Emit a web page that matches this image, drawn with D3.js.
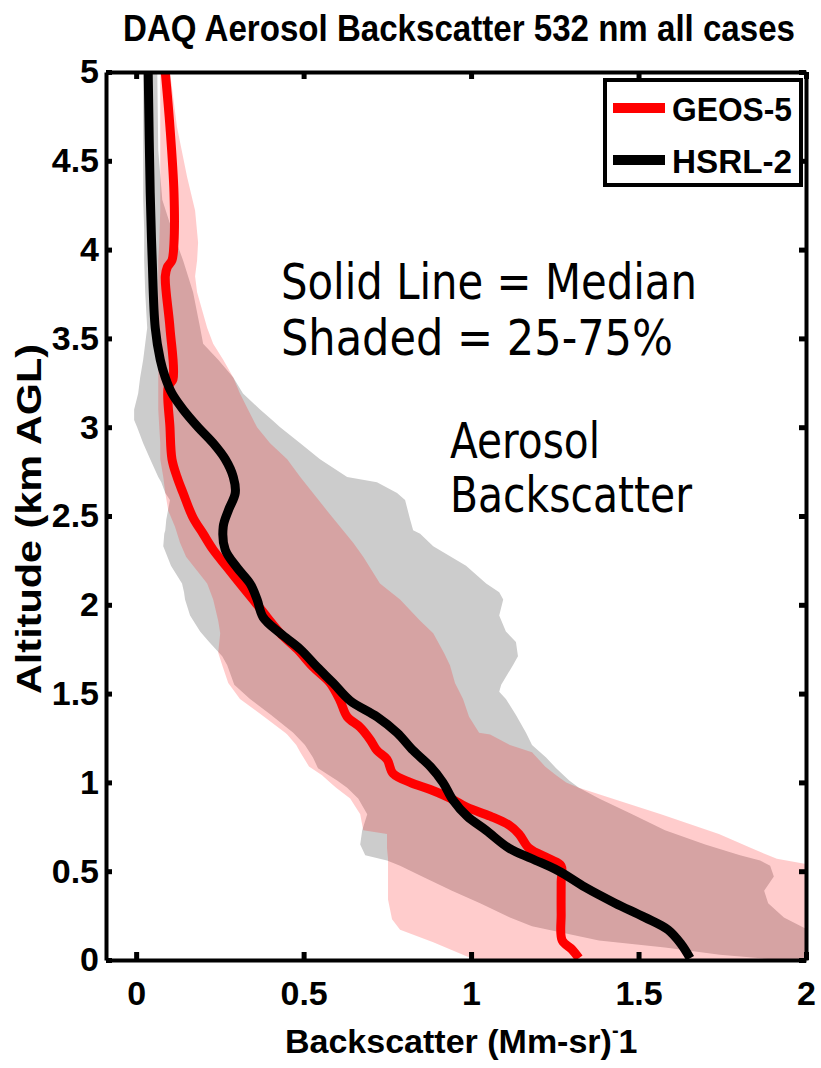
<!DOCTYPE html>
<html>
<head>
<meta charset="utf-8">
<script src="https://cdn.jsdelivr.net/npm/d3@7"></script>
<style>
  html, body { margin: 0; padding: 0; background: #fff; }
  svg { display: block; }
</style>
</head>
<body>
<svg id="chart" width="821" height="1068"></svg>
<script>
// ---- data -------------------------------------------------------------
// Median profiles (altitude km AGL, backscatter Mm^-1 sr^-1)
const hsrlAlt = [5.00, 4.32, 3.94, 3.56, 3.38, 3.28, 3.19, 3.10, 3.00, 2.91, 2.82, 2.72, 2.63, 2.53, 2.44, 2.31, 2.21, 2.12, 2.03, 1.93, 1.84, 1.75, 1.65, 1.56, 1.46, 1.37, 1.28, 1.18, 1.09, 1.00, 0.90, 0.81, 0.73, 0.63, 0.57, 0.50, 0.41, 0.32, 0.24, 0.17, 0.09, 0.01];
const hsrlMedian = [0.036, 0.042, 0.048, 0.057, 0.072, 0.087, 0.107, 0.140, 0.185, 0.230, 0.266, 0.290, 0.296, 0.275, 0.260, 0.266, 0.301, 0.340, 0.361, 0.379, 0.430, 0.490, 0.540, 0.588, 0.639, 0.719, 0.779, 0.827, 0.878, 0.916, 0.946, 0.988, 1.045, 1.113, 1.182, 1.263, 1.340, 1.430, 1.519, 1.588, 1.627, 1.654];

const geosAlt = [5.00, 4.69, 4.32, 4.04, 3.94, 3.90, 3.85, 3.56, 3.27, 3.23, 3.00, 2.82, 2.72, 2.63, 2.49, 2.40, 2.31, 2.21, 2.12, 2.03, 1.93, 1.84, 1.75, 1.65, 1.56, 1.46, 1.37, 1.31, 1.24, 1.18, 1.13, 1.05, 1.00, 0.96, 0.92, 0.86, 0.81, 0.76, 0.71, 0.63, 0.57, 0.53, 0.44, 0.26, 0.11, 0.06, 0.01];
const geosMedian = [0.087, 0.101, 0.113, 0.113, 0.107, 0.093, 0.087, 0.101, 0.110, 0.096, 0.101, 0.107, 0.122, 0.140, 0.170, 0.200, 0.230, 0.272, 0.310, 0.349, 0.391, 0.430, 0.481, 0.528, 0.579, 0.609, 0.630, 0.669, 0.699, 0.719, 0.749, 0.767, 0.818, 0.878, 0.928, 0.988, 1.057, 1.113, 1.143, 1.173, 1.233, 1.269, 1.269, 1.269, 1.272, 1.301, 1.322];

// Interquartile ranges (25th / 75th percentile)
const hsrlBandAlt = [5.00, 4.56, 4.28, 4.11, 3.94, 3.76, 3.56, 3.47, 3.38, 3.28, 3.19, 3.10, 3.04, 3.00, 2.91, 2.82, 2.72, 2.69, 2.63, 2.59, 2.48, 2.42, 2.40, 2.33, 2.22, 2.12, 2.07, 2.03, 1.94, 1.85, 1.79, 1.71, 1.66, 1.55, 1.51, 1.47, 1.38, 1.28, 1.21, 1.14, 1.08, 1.01, 0.97, 0.91, 0.82, 0.73, 0.65, 0.59, 0.56, 0.53, 0.47, 0.39, 0.32, 0.24, 0.19, 0.11, 0.07, 0.03, 0.00];
const hsrlP25 = [0.021, 0.021, 0.021, 0.024, 0.024, 0.027, 0.033, 0.027, 0.021, 0.012, 0.006, -0.006, -0.006, 0.003, 0.021, 0.042, 0.066, 0.075, 0.087, 0.101, 0.090, 0.087, 0.084, 0.081, 0.104, 0.137, 0.143, 0.146, 0.161, 0.191, 0.218, 0.257, 0.272, 0.293, 0.316, 0.340, 0.403, 0.469, 0.504, 0.528, 0.543, 0.600, 0.630, 0.663, 0.690, 0.675, 0.669, 0.684, 0.749, 0.788, 0.854, 0.943, 1.027, 1.116, 1.182, 1.382, 1.579, 1.743, 1.922];
const hsrlP75 = [0.063, 0.066, 0.078, 0.107, 0.140, 0.170, 0.191, 0.200, 0.245, 0.290, 0.319, 0.370, 0.406, 0.430, 0.490, 0.549, 0.630, 0.719, 0.779, 0.803, 0.818, 0.827, 0.848, 0.887, 0.985, 1.045, 1.084, 1.096, 1.084, 1.104, 1.134, 1.140, 1.125, 1.090, 1.084, 1.104, 1.134, 1.164, 1.182, 1.224, 1.254, 1.293, 1.322, 1.382, 1.481, 1.579, 1.699, 1.803, 1.863, 1.893, 1.904, 1.875, 1.887, 1.934, 1.985, 2.072, 2.100, 2.130, 2.150];

const geosBandAlt = [5.00, 4.69, 4.41, 4.22, 4.04, 3.94, 3.85, 3.76, 3.56, 3.47, 3.38, 3.28, 3.19, 3.10, 3.00, 2.91, 2.82, 2.72, 2.63, 2.53, 2.44, 2.35, 2.27, 2.12, 2.03, 1.91, 1.84, 1.73, 1.66, 1.56, 1.47, 1.37, 1.28, 1.27, 1.21, 1.17, 1.09, 1.04, 1.00, 0.97, 0.91, 0.82, 0.73, 0.71, 0.63, 0.57, 0.54, 0.45, 0.34, 0.23, 0.17, 0.10, 0.02, 0.00];
const geosP25 = [0.072, 0.072, 0.072, 0.072, 0.069, 0.066, 0.066, 0.066, 0.066, 0.066, 0.066, 0.066, 0.066, 0.066, 0.069, 0.072, 0.072, 0.081, 0.087, 0.096, 0.116, 0.131, 0.149, 0.212, 0.230, 0.245, 0.251, 0.245, 0.257, 0.275, 0.310, 0.382, 0.445, 0.451, 0.478, 0.490, 0.516, 0.555, 0.579, 0.597, 0.639, 0.669, 0.678, 0.749, 0.749, 0.752, 0.752, 0.752, 0.752, 0.764, 0.788, 0.887, 0.988, 1.027];
const geosP75 = [0.101, 0.122, 0.152, 0.176, 0.185, 0.182, 0.176, 0.182, 0.212, 0.230, 0.260, 0.290, 0.310, 0.334, 0.361, 0.400, 0.451, 0.490, 0.528, 0.570, 0.609, 0.648, 0.678, 0.728, 0.788, 0.848, 0.887, 0.919, 0.937, 0.952, 0.976, 0.994, 1.024, 1.057, 1.116, 1.182, 1.221, 1.254, 1.284, 1.322, 1.421, 1.567, 1.707, 1.740, 1.836, 1.913, 2.000, 2.070, 2.100, 2.100, 2.100, 2.100, 2.100, 2.100];

const xTicks = [0, 0.5, 1, 1.5, 2];
const yTicks = [0, 0.5, 1, 1.5, 2, 2.5, 3, 3.5, 4, 4.5, 5];
const seriesNames = ["GEOS-5", "HSRL-2"];
const seriesColors = ["#ff0000", "#000000"];

// ---- layout -----------------------------------------------------------
const svg = d3.select("#chart");
const x = d3.scaleLinear().domain([-0.09, 2]).range([106, 806]);
const y = d3.scaleLinear().domain([0, 5]).range([960, 72]);
const boldFont = "'Liberation Sans', Arial, sans-serif";
const textFont = "Tahoma, 'DejaVu Sans', Verdana, sans-serif";

svg.append("defs").append("clipPath").attr("id", "plot-clip")
  .append("rect")
  .attr("x", x.range()[0]).attr("y", y.range()[1])
  .attr("width", x.range()[1] - x.range()[0])
  .attr("height", y.range()[0] - y.range()[1]);

const plot = svg.append("g").attr("clip-path", "url(#plot-clip)");

function band(alts, lo, hi) {
  const rows = alts.map((a, i) => ({ a, lo: lo[i], hi: hi[i] }));
  return d3.area()
    .y(d => y(d.a))
    .x0(d => x(d.lo))
    .x1(d => x(d.hi))
    .curve(d3.curveLinear)(rows);
}

// HSRL-2 interquartile range (grey), GEOS-5 interquartile range (translucent red)
plot.append("path")
  .attr("d", band(hsrlBandAlt, hsrlP25, hsrlP75))
  .attr("fill", "#cccccc");
plot.append("path")
  .attr("d", band(geosBandAlt, geosP25, geosP75))
  .attr("fill", "#ff0000")
  .attr("fill-opacity", 0.2);

function profile(alts, vals) {
  return d3.line()
    .x(d => x(d[1]))
    .y(d => y(d[0]))
    .curve(d3.curveCatmullRom.alpha(0.5))(alts.map((a, i) => [a, vals[i]]));
}

plot.append("path")
  .attr("d", profile(geosAlt, geosMedian))
  .attr("fill", "none").attr("stroke", seriesColors[0])
  .attr("stroke-width", 9).attr("stroke-linejoin", "round");
plot.append("path")
  .attr("d", profile(hsrlAlt, hsrlMedian))
  .attr("fill", "none").attr("stroke", seriesColors[1])
  .attr("stroke-width", 9).attr("stroke-linejoin", "round");

// ---- axes (box with inward ticks) ------------------------------------
const fmt = d => d3.format("")(d);
function styleAxis(g, showLabels) {
  g.select(".domain").attr("stroke", "#000").attr("stroke-width", 4);
  g.selectAll(".tick line").attr("stroke", "#000").attr("stroke-width", 5);
  g.selectAll(".tick text")
    .attr("fill", "#000")
    .attr("font-family", boldFont)
    .attr("font-weight", "bold")
    .attr("font-size", 34)
    .style("display", showLabels ? null : "none");
}

svg.append("g")
  .attr("transform", `translate(0,${y(0)})`)
  .call(d3.axisBottom(x).tickValues(xTicks).tickFormat(fmt).tickSize(-8).tickSizeOuter(0).tickPadding(21))
  .call(g => styleAxis(g, true));

svg.append("g")
  .attr("transform", `translate(0,${y(5)})`)
  .call(d3.axisTop(x).tickValues(xTicks).tickSize(-7).tickSizeOuter(0))
  .call(g => styleAxis(g, false));

svg.append("g")
  .attr("transform", `translate(${x(-0.09)},0)`)
  .call(d3.axisLeft(y).tickValues(yTicks).tickFormat(fmt).tickSize(-6).tickSizeOuter(0).tickPadding(7))
  .call(g => styleAxis(g, true));

svg.append("g")
  .attr("transform", `translate(${x(2)},0)`)
  .call(d3.axisRight(y).tickValues(yTicks).tickSize(-7).tickSizeOuter(0))
  .call(g => styleAxis(g, false));

// ---- titles -----------------------------------------------------------
// Tall, narrow bold title: natural width at 33px, stretched vertically
svg.append("text")
  .attr("transform", "translate(123,41) scale(1,1.1)")
  .attr("font-family", boldFont).attr("font-weight", "bold").attr("font-size", 33)
  .attr("textLength", 672).attr("lengthAdjust", "spacingAndGlyphs")
  .text("DAQ Aerosol Backscatter 532 nm all cases");

const xLab = svg.append("text")
  .attr("x", 285).attr("y", 1053)
  .attr("font-family", boldFont).attr("font-weight", "bold").attr("font-size", 34);
xLab.append("tspan").text("Backscatter (Mm-sr)");
xLab.append("tspan").attr("dy", -16).attr("font-size", 20).text("-");
xLab.append("tspan").attr("dy", 16).text("1");

svg.append("text")
  .attr("transform", "translate(41,519) rotate(-90)")
  .attr("text-anchor", "middle")
  .attr("font-family", boldFont).attr("font-weight", "bold").attr("font-size", 35)
  .attr("textLength", 350).attr("lengthAdjust", "spacingAndGlyphs")
  .text("Altitude (km AGL)");

// ---- annotations ------------------------------------------------------
const notes = [
  { t: "Solid Line = Median", x: 281, y: 299, w: 416 },
  { t: "Shaded = 25-75%", x: 281, y: 355, w: 392 },
  { t: "Aerosol", x: 450, y: 458, w: 150 },
  { t: "Backscatter", x: 450, y: 512, w: 242 }
];
svg.selectAll("text.note").data(notes).join("text")
  .attr("class", "note")
  .attr("x", d => d.x).attr("y", d => d.y)
  .attr("font-family", textFont).attr("font-size", 50)
  .attr("textLength", d => d.w).attr("lengthAdjust", "spacingAndGlyphs")
  .attr("fill", "#000")
  .text(d => d.t);

// ---- legend -----------------------------------------------------------
const leg = svg.append("g");
leg.append("rect")
  .attr("x", 605).attr("y", 80).attr("width", 196).attr("height", 105)
  .attr("fill", "#fff").attr("stroke", "#000").attr("stroke-width", 4);
const legRows = seriesNames.map((n, i) => ({ n, c: seriesColors[i], yy: 108 + i * 52 }));
leg.selectAll("line.key").data(legRows).join("line")
  .attr("x1", 613).attr("x2", 665)
  .attr("y1", d => d.yy).attr("y2", d => d.yy)
  .attr("stroke", d => d.c).attr("stroke-width", 10);
leg.selectAll("text.key").data(legRows).join("text")
  .attr("x", 672).attr("y", d => d.yy + 13)
  .attr("font-family", boldFont).attr("font-weight", "bold").attr("font-size", 34)
  .attr("textLength", 120).attr("lengthAdjust", "spacingAndGlyphs")
  .text(d => d.n);
</script>
</body>
</html>
